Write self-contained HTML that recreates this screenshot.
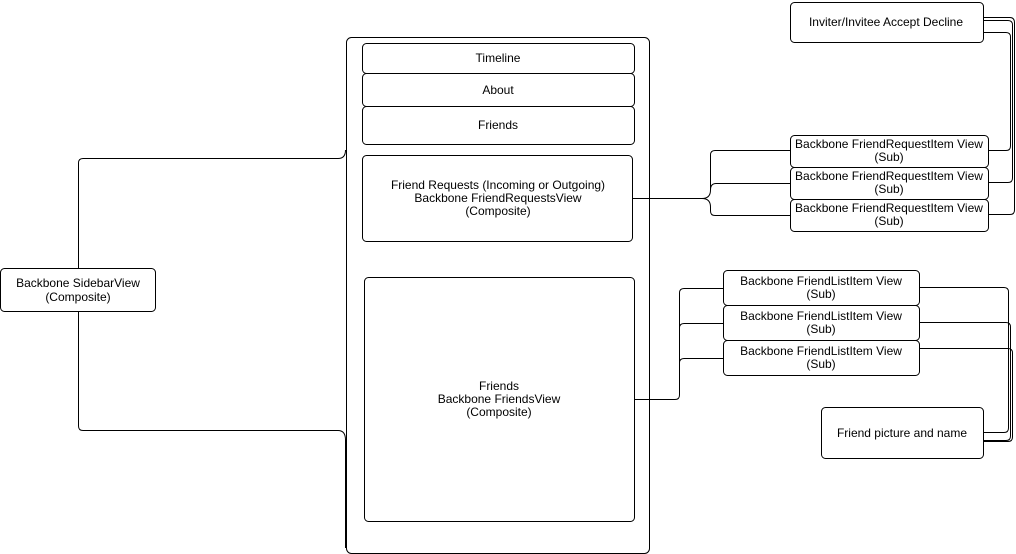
<!DOCTYPE html>
<html><head><meta charset="utf-8"><style>
html,body{margin:0;padding:0;background:#fff;width:1016px;height:554px;overflow:hidden}
text{font-family:"Liberation Sans",Arial,sans-serif;font-size:12px;fill:#000;text-anchor:middle}
</style></head><body>
<svg width="1016" height="554" viewBox="0 0 1016 554" xmlns="http://www.w3.org/2000/svg">
<g fill="none" stroke="#000" stroke-width="1">
<rect x="346.5" y="37.5" width="303" height="516" rx="5"/>
<rect x="362.5" y="43.5" width="272" height="30" rx="4"/>
<rect x="362.5" y="73.5" width="272" height="33" rx="4"/>
<rect x="362.5" y="106.5" width="272" height="38" rx="4"/>
<rect x="362.5" y="155.5" width="270" height="86" rx="4"/>
<rect x="364.5" y="277.5" width="270" height="244" rx="4"/>
<rect x="0.5" y="268.5" width="155" height="43" rx="4"/>
<path d="M78.5 268 V163 Q78.5 158.5 83 158.5 H338 Q345.5 158.5 345.5 150"/>
<path d="M78.5 311 V426 Q78.5 430.5 83 430.5 H338 Q345.5 430.5 345.5 440 V548"/>
<rect x="790.5" y="2.5" width="193" height="40" rx="4"/>
<rect x="790.5" y="135.5" width="198" height="32" rx="4"/>
<rect x="790.5" y="167.5" width="198" height="32" rx="4"/>
<rect x="790.5" y="199.5" width="198" height="32" rx="4"/>
<path d="M632 198.5 H702 Q710.5 198.5 710.5 190 V155 Q710.5 150.5 715 150.5 H790"/>
<path d="M710.5 190 Q710.5 183.5 716 183.5 H790"/>
<path d="M702 198.5 Q710.5 198.5 710.5 207 V211 Q710.5 215.5 715 215.5 H790"/>
<path d="M988 150.5 H1006 Q1010.5 150.5 1010.5 146 V37 Q1010.5 32.5 1006 32.5 H983"/>
<path d="M988 182.5 H1008 Q1012.5 182.5 1012.5 178 V25 Q1012.5 20.5 1008 20.5 H983"/>
<path d="M988 214.5 H1010 Q1014.5 214.5 1014.5 210 V23 Q1014.5 17.5 1010 17.5 H983"/>
<rect x="723.5" y="270.5" width="196" height="35" rx="4"/>
<rect x="723.5" y="305.5" width="196" height="35" rx="4"/>
<rect x="723.5" y="340.5" width="196" height="35" rx="4"/>
<path d="M634 399.5 H675 Q679.5 399.5 679.5 395 V293 Q679.5 288.5 684 288.5 H723"/>
<path d="M679.5 328 Q679.5 323.5 684 323.5 H723"/>
<path d="M679.5 363 Q679.5 358.5 684 358.5 H723"/>
<rect x="821.5" y="407.5" width="162" height="51" rx="4"/>
<path d="M919 287.5 H1004 Q1008.5 287.5 1008.5 292 V428 Q1008.5 432.5 1004 432.5 H983"/>
<path d="M919 322.5 H1006 Q1010.5 322.5 1010.5 327 V436 Q1010.5 440.5 1006 440.5 H983"/>
<path d="M919 348.5 H1008 Q1012.5 348.5 1012.5 353 V437 Q1012.5 441.5 1008 441.5 H983"/>
</g>
<text x="498" y="62">Timeline</text>
<text x="498" y="94">About</text>
<text x="498" y="129">Friends</text>
<text x="498" y="189">Friend Requests (Incoming or Outgoing)</text>
<text x="498" y="202">Backbone FriendRequestsView</text>
<text x="498" y="215">(Composite)</text>
<text x="499" y="390">Friends</text>
<text x="499" y="403">Backbone FriendsView</text>
<text x="499" y="416">(Composite)</text>
<text x="78" y="287">Backbone SidebarView</text>
<text x="78" y="301">(Composite)</text>
<text x="886" y="26">Inviter/Invitee Accept Decline</text>
<text x="889" y="148">Backbone FriendRequestItem View</text>
<text x="889" y="161">(Sub)</text>
<text x="889" y="180">Backbone FriendRequestItem View</text>
<text x="889" y="193">(Sub)</text>
<text x="889" y="212">Backbone FriendRequestItem View</text>
<text x="889" y="225">(Sub)</text>
<text x="821" y="285">Backbone FriendListItem View</text>
<text x="821" y="298">(Sub)</text>
<text x="821" y="320">Backbone FriendListItem View</text>
<text x="821" y="333">(Sub)</text>
<text x="821" y="355">Backbone FriendListItem View</text>
<text x="821" y="368">(Sub)</text>
<text x="902" y="437">Friend picture and name</text>
</svg>
</body></html>
